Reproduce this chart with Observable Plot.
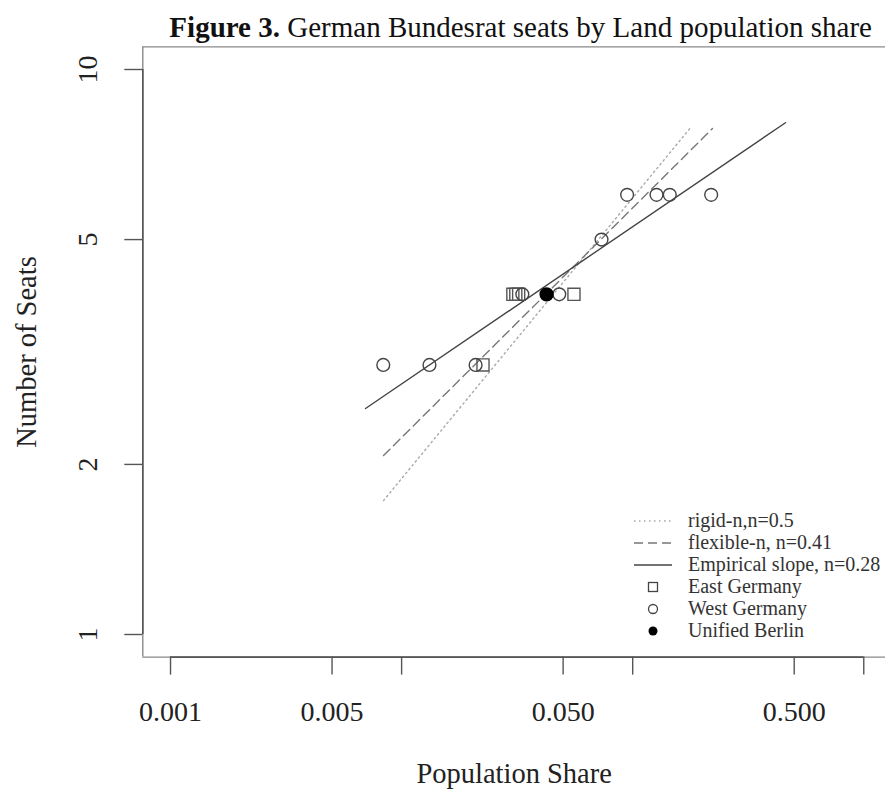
<!DOCTYPE html>
<html><head><meta charset="utf-8">
<script src="https://cdn.jsdelivr.net/npm/d3@7"></script>
<script src="https://cdn.jsdelivr.net/npm/@observablehq/plot@0.6"></script>
<style>
body{margin:0;background:#fff;}
#chart{position:relative;width:885px;height:790px;overflow:hidden;}
</style></head><body><div id="chart"></div>
<script>
// ---- data ----
const eastShare = [0.0225, 0.0303, 0.0312, 0.0321, 0.0557];
const eastSeats = [3, 4, 4, 4, 4];
const westShare = [0.00833, 0.0132, 0.0209, 0.0333, 0.0481, 0.0733, 0.0946, 0.1268, 0.1447, 0.2186];
const westSeats = [3, 3, 3, 4, 4, 5, 6, 6, 6, 6];
const berlinShare = [0.0424];
const berlinSeats = [4];
const fitNames = ["rigid-n,n=0.5", "flexible-n, n=0.41", "Empirical slope, n=0.28"];
const fitShareStart = [0.00835, 0.00835, 0.00698];
const fitShareEnd = [0.178, 0.2214, 0.4584];
const fitSeatsStart = [1.726, 2.074, 2.512];
const fitSeatsEnd = [7.89, 7.86, 8.05];
const pointNames = ["East Germany", "West Germany", "Unified Berlin"];
const xTicks = [0.001, 0.005, 0.01, 0.05, 0.1, 0.5, 1];
const xLabelValues = [0.001, 0.005, 0.05, 0.5];
const xLabelTexts = ["0.001", "0.005", "0.050", "0.500"];
const yTicks = [1, 2, 5, 10];
const yLabelTexts = ["1", "2", "5", "10"];
const titleBold = "Figure 3.";
const titleRest = " German Bundesrat seats by Land population share";
const xTitle = "Population Share";
const yTitle = "Number of Seats";

// ---- build tables ----
const east = eastShare.map((s, i) => ({share: s, seats: eastSeats[i]}));
const west = westShare.map((s, i) => ({share: s, seats: westSeats[i]}));
const berlin = berlinShare.map((s, i) => ({share: s, seats: berlinSeats[i]}));
const fits = fitNames.map((name, i) => [
  {name, share: fitShareStart[i], seats: fitSeatsStart[i]},
  {name, share: fitShareEnd[i], seats: fitSeatsEnd[i]}
]);
const xLabels = xLabelValues.map((v, i) => ({v, t: xLabelTexts[i]}));
const yLabels = yTicks.map((v, i) => ({v, t: yLabelTexts[i]}));

const W = 885, H = 790;
const mL = 142.3, mT = 46.4, mB = H - 656.6, mR = 0;
const pad = 0.04 * 3; // R's 4% extension of a 3-decade range
const xDomain = [10 ** (-3 - pad), 10 ** (0 + pad)];
const yDomain = [10 ** (0 - 0.04), 10 ** (1 + 0.04)];
const xRange = [mL, 891];
const serif = "'Liberation Serif', 'Times New Roman', serif";
const axisCol = "#555";
const boxCol = "#8a8a8a";

const fitStyles = [
  {stroke: "#a8a8a8", strokeDasharray: "1.5,3.5", strokeWidth: 1.4},
  {stroke: "#777", strokeDasharray: "9,5", strokeWidth: 1.4},
  {stroke: "#444", strokeWidth: 1.4}
];

const plot = Plot.plot({
  width: W, height: H,
  marginLeft: mL, marginRight: mR, marginTop: mT, marginBottom: mB,
  style: {fontFamily: serif, background: "white", color: "#222"},
  x: {type: "log", domain: xDomain, range: xRange},
  y: {type: "log", domain: yDomain, range: [H - mB, mT]},
  marks: [
    // plot box (right edge falls outside the picture)
    Plot.ruleY([yDomain[0], yDomain[1]], {x1: xDomain[0], x2: xDomain[1], stroke: boxCol, strokeWidth: 1.4}),
    Plot.ruleX([xDomain[0]], {y1: yDomain[0], y2: yDomain[1], stroke: boxCol, strokeWidth: 1.4}),
    // axis lines (first to last tick)
    Plot.ruleY([yDomain[0]], {x1: xTicks[0], x2: xTicks[xTicks.length - 1], stroke: axisCol, strokeWidth: 1.6}),
    Plot.ruleX([xDomain[0]], {y1: yTicks[0], y2: yTicks[yTicks.length - 1], stroke: axisCol, strokeWidth: 1.6}),
    Plot.axisX({ticks: xTicks, tickSize: 18, tickFormat: () => "", stroke: axisCol, strokeWidth: 1.4, label: null}),
    Plot.axisY({ticks: yTicks, tickSize: 18, tickFormat: () => "", stroke: axisCol, strokeWidth: 1.4, label: null}),
    Plot.text(xLabels, {x: "v", text: "t", frameAnchor: "bottom", lineAnchor: "top", dy: 44, fontSize: 28, fill: "#222"}),
    Plot.text(yLabels, {y: "v", text: "t", frameAnchor: "left", rotate: -90, lineAnchor: "middle", textAnchor: "middle", dx: -54.3, fontSize: 28, fill: "#222"}),
    Plot.text([xTitle], {frameAnchor: "bottom", lineAnchor: "bottom", dy: 126, fontSize: 28.5, fill: "#222"}),
    Plot.text([yTitle], {frameAnchor: "left", rotate: -90, lineAnchor: "middle", textAnchor: "middle", dx: -116, fontSize: 28.5, fill: "#222"}),
    // fitted lines
    ...fits.map((f, i) => Plot.line(f, {x: "share", y: "seats", ...fitStyles[i]})),
    // points
    Plot.dot(east, {x: "share", y: "seats", symbol: "square", r: 6.8, stroke: "#555", strokeWidth: 1.4, fill: "none"}),
    Plot.dot(west, {x: "share", y: "seats", symbol: "circle", r: 6.4, stroke: "#444", strokeWidth: 1.4, fill: "none"}),
    Plot.dot(berlin, {x: "share", y: "seats", symbol: "circle", r: 6.4, stroke: "#000", fill: "#000"})
  ]
});
document.getElementById("chart").appendChild(plot);

// ---- title (mixed bold / regular) ----
const svg = d3.select(plot);
const cx = (xRange[0] + xRange[1]) / 2 + 4;
const title = svg.append("text")
  .attr("x", cx).attr("y", 37).attr("text-anchor", "middle")
  .attr("font-family", serif).attr("font-size", 29).attr("fill", "#111");
title.append("tspan").attr("font-weight", "bold").text(titleBold);
title.append("tspan").text(titleRest);

// ---- legend ----
const legendNames = [...fitNames, ...pointNames];
const lg = svg.append("g").attr("font-family", serif).attr("font-size", 20).attr("text-anchor", "start");
const rowY = i => 521 + i * 22;
legendNames.forEach((name, i) => {
  const y = rowY(i);
  if (i < 3) {
    const st = fitStyles[i];
    lg.append("line").attr("x1", 634).attr("x2", 672).attr("y1", y).attr("y2", y)
      .attr("stroke", st.stroke).attr("stroke-width", st.strokeWidth)
      .attr("stroke-dasharray", st.strokeDasharray || null);
  } else if (i === 3) {
    lg.append("rect").attr("x", 653 - 4.5).attr("y", y - 4.5).attr("width", 9).attr("height", 9)
      .attr("fill", "none").attr("stroke", "#444").attr("stroke-width", 1.3);
  } else if (i === 4) {
    lg.append("circle").attr("cx", 653).attr("cy", y).attr("r", 4.5)
      .attr("fill", "none").attr("stroke", "#444").attr("stroke-width", 1.3);
  } else {
    lg.append("circle").attr("cx", 653).attr("cy", y).attr("r", 4.5).attr("fill", "#000");
  }
  lg.append("text").attr("x", 688).attr("y", y + 6).attr("text-anchor", "start").attr("fill", "#333").text(name);
});
</script></body></html>
